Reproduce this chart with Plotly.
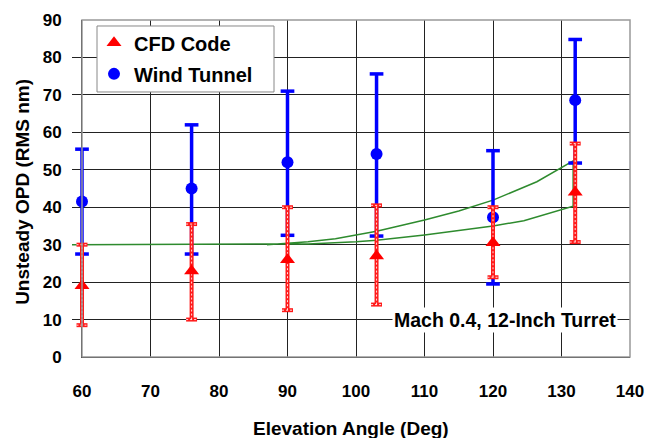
import plotly.graph_objects as go

# Data
angles = [60, 76, 90, 103, 120, 132]
wt_opd = [41.5, 45, 52, 54.2, 37.3, 68.6]
wt_hi = [55.5, 62, 71, 75.6, 55.1, 84.8]
wt_lo = [27.5, 27.5, 32.5, 32.3, 19.5, 51.8]

cfd_opd = [19, 23, 26, 27, 30.5, 44]
cfd_hi = [30, 35.5, 40, 40.5, 40, 57]
cfd_lo = [8.5, 10, 12.5, 14, 21.3, 30.7]

env_x = [58.5, 70, 80, 87, 93, 100, 103, 110, 115, 120, 124.5, 128, 131.7,
         131.7, 126.4, 120, 115, 110, 103, 97, 93, 87]
env_y = [30, 30, 30, 30, 30.2, 30.8, 31.2, 32.6, 33.7, 35, 36.4, 38.2, 40.3,
         52.4, 46.8, 41.9, 39.0, 36.6, 33.6, 31.6, 30.8, 30]

x_ticks = [60, 70, 80, 90, 100, 110, 120, 130, 140]
y_ticks = [0, 10, 20, 30, 40, 50, 60, 70, 80, 90]

FONT = "Arial, Liberation Sans, sans-serif"

# layout geometry: main axis spans 548 px; an invisible companion axis
# extends 10 px further left so bars at x=60 are not clipped
ML, MR = 72, 26
PW = 656 - ML - MR          # 558 px paper width
PAD = 10                    # px
X0, X1 = 60, 140
PAD_UNITS = PAD * (X1 - X0) / (PW - PAD)


def bar_paths(xs, lo, hi, hw):
    """Vertical error bar with caps, as a single path with gaps."""
    px, py = [], []
    for x, l, h in zip(xs, lo, hi):
        px += [x, x, None, x - hw, x + hw, None, x - hw, x + hw, None]
        py += [l, h, None, h, h, None, l, l, None]
    return px, py


def paper_x(pix):
    return (pix - ML) / PW


fig = go.Figure()

fig.add_trace(go.Scatter(
    x=env_x, y=env_y, xaxis="x2", mode="lines", showlegend=False,
    line=dict(color="#2e8b2e", width=1.5), hoverinfo="skip"))

# Wind tunnel error bars + markers
bx, by = bar_paths(angles, wt_lo, wt_hi, 1.0)
fig.add_trace(go.Scatter(
    x=bx, y=by, xaxis="x2", mode="lines", showlegend=False,
    line=dict(color="#0000ff", width=3.5), hoverinfo="skip"))
fig.add_trace(go.Scatter(
    x=angles, y=wt_opd, xaxis="x2", mode="markers", name="Wind Tunnel",
    legendrank=2, legendgroup="wt", cliponaxis=False,
    marker=dict(symbol="circle", size=12, color="#0000ff")))

# CFD error bars (red with white dotted core) + markers
rx, ry = bar_paths(angles, cfd_lo, cfd_hi, 0.8)
fig.add_trace(go.Scatter(
    x=rx, y=ry, xaxis="x2", mode="lines", showlegend=False,
    line=dict(color="#ff1a1a", width=4), hoverinfo="skip"))
fig.add_trace(go.Scatter(
    x=rx, y=ry, xaxis="x2", mode="lines", showlegend=False,
    line=dict(color="rgba(255,255,255,0.85)", width=1, dash="2px,2px"),
    hoverinfo="skip"))
fig.add_trace(go.Scatter(
    x=angles, y=cfd_opd, xaxis="x2", mode="markers", name="CFD Code",
    legendrank=1, legendgroup="cfd", cliponaxis=False,
    marker=dict(symbol="triangle-up", size=13, color="#ff0000")))

fig.add_annotation(
    x=121.7, y=10, xref="x", yref="y", text="Mach 0.4, 12-Inch Turret",
    showarrow=False, bgcolor="white", borderpad=1,
    font=dict(family=FONT, size=19.5, color="black", weight="bold"))

# axis titles
fig.add_annotation(
    x=paper_x(350.5), y=-0.211, xref="paper", yref="paper",
    text="Elevation Angle (Deg)",
    showarrow=False, xanchor="center", yanchor="middle",
    font=dict(family=FONT, size=19, color="black", weight="bold"))
fig.add_annotation(
    x=paper_x(23), y=0.49, xref="paper", yref="paper",
    text="Unsteady OPD (RMS nm)",
    showarrow=False, xanchor="center", yanchor="middle", textangle=-90,
    font=dict(family=FONT, size=19, color="black", weight="bold"))

# legend frame
fig.add_shape(type="rect", xref="paper", yref="paper",
              x0=paper_x(97), x1=paper_x(274), y0=0.7864, y1=0.9822,
              fillcolor="white", line=dict(color="#888888", width=1),
              layer="above")

fig.update_layout(
    width=656, height=438,
    margin=dict(l=ML, r=MR, t=20, b=81),
    paper_bgcolor="white", plot_bgcolor="rgba(0,0,0,0)",
    font=dict(family=FONT, size=17, color="black", weight="bold"),
    showlegend=True,
    legend=dict(x=paper_x(94), y=0.99, xanchor="left", yanchor="top",
                bgcolor="rgba(0,0,0,0)", borderwidth=0,
                font=dict(family=FONT, size=20, color="black", weight="bold"),
                tracegroupgap=2),
    xaxis=dict(domain=[PAD / PW, 1], range=[X0, X1], tickvals=x_ticks,
               ticks="", automargin=False,
               showgrid=True, gridcolor="#222222", gridwidth=1,
               showline=True, linecolor="black", linewidth=1, mirror=False,
               zeroline=False, ticklabelstandoff=19),
    xaxis2=dict(domain=[0, 1], range=[X0 - PAD_UNITS, X1], anchor="y",
                visible=False, showgrid=False, zeroline=False),
    yaxis=dict(range=[0, 90], tickvals=y_ticks, ticks="", automargin=False,
               anchor="x",
               showgrid=True, gridcolor="#222222", gridwidth=1,
               showline=True, linecolor="black", linewidth=1,
               zeroline=False, ticklabelstandoff=16),
)

fig.add_shape(type="rect", xref="paper", yref="paper",
              x0=PAD / PW, y0=0, x1=1, y1=1,
              line=dict(color="#999999", width=1.5), layer="above")

fig.write_html("out.html")
